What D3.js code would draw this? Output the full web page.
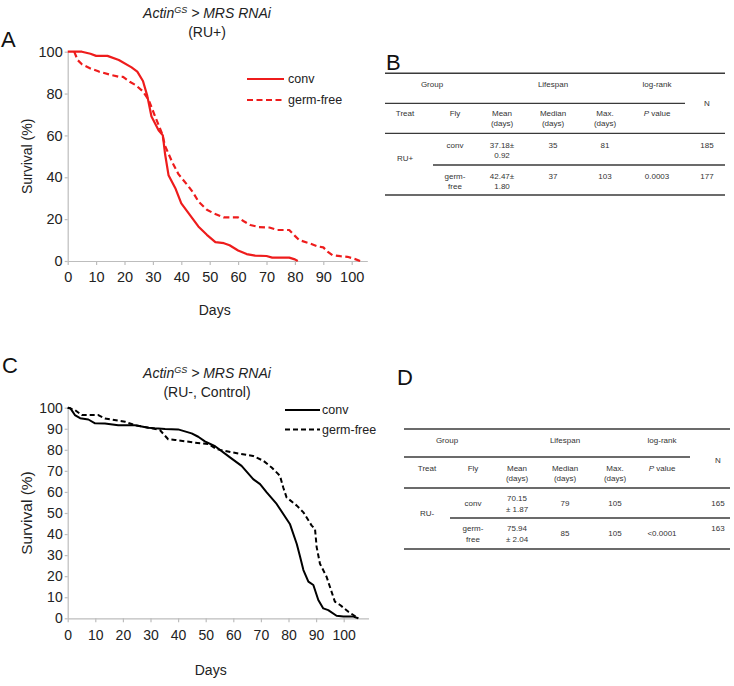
<!DOCTYPE html>
<html><head><meta charset="utf-8">
<script src="https://cdn.jsdelivr.net/npm/d3@7/dist/d3.min.js"></script>
<style>
body{margin:0;background:#fff}
svg{display:block}
text{font-family:Arial,"Liberation Sans",sans-serif}
</style>
</head><body>
<svg id="chart" width="734" height="686"></svg>
<script>
// ---------------- DATA ----------------
const xTickValues = [0,10,20,30,40,50,60,70,80,90,100];
const yTicksA = [0,20,40,60,80,100];
const yTicksC = [0,10,20,30,40,50,60,70,80,90,100];
const seriesNames = ["conv","germ-free"];

// Panel A (RU+): [day, survival %]
const convA = [[0,100],[5,100],[8,99],[10,98],[14,98],[18,96],[22.5,92.5],[24.5,90.5],[26.5,86],[28,79],[29.5,69],[32,62.5],[33.5,60],[34.3,51],[35.5,41],[38,34.5],[40,27.5],[43,22],[46,16.5],[49,12.5],[52,9],[55,8.5],[57,7.5],[60,5],[63,3.3],[66,2.6],[70,2.4],[72,1.6],[78,1.6],[80,0.8],[81,0]];
const germA = [[2.3,100],[3.5,96],[5,94],[8,92],[11,90.5],[15,89],[18,88],[19.5,88],[22,85.5],[24,84],[26.5,81],[28.5,77],[30.8,69],[33.2,61],[34.3,55],[36.7,47.5],[39,41.5],[42.6,35.5],[44,33],[46.1,28.3],[49,24.5],[51.4,22.8],[55,20.8],[60,20.8],[62,19],[64.3,17.2],[67.3,16.2],[71,16],[73.8,14.8],[78,14.8],[80,12],[81.5,10],[85,8.5],[88,7],[90,6.5],[91.5,4.5],[93.2,2.8],[96,2.3],[98.5,2],[101,1],[103,0]];

// Panel C (RU-, Control)
const convC = [[0,100],[1,99.7],[2.6,96.5],[4.5,95],[7.5,94.4],[9.9,92.6],[13.5,92.5],[18.3,91.7],[24.4,91.7],[29.2,90.5],[31.6,90.2],[35.3,89.9],[40,89.7],[44.9,87.8],[47.3,86.2],[49.7,84],[53.4,81.7],[58.8,76.4],[63,72.4],[67.2,66.1],[69.7,63.7],[72.1,59.8],[75.7,54.3],[80.5,44.8],[83,35.3],[84.2,29.2],[85.4,22.9],[87.2,17.4],[89,15.8],[90.8,8.7],[92.6,4.7],[94.4,3.9],[97.4,1.2],[99.9,0.8],[103.5,0.8],[105.3,0]];
const germC = [[0,100],[0.8,99.7],[2.6,98.9],[5.1,96.5],[11.1,96.5],[13.5,94.9],[20.8,93.3],[24.4,91.7],[30.4,90.2],[33.4,89.4],[36.4,85],[38.9,84.7],[46.1,83.4],[50.9,82.8],[54,80.3],[60,78.7],[67.2,77.1],[70.9,74.8],[73.9,71.6],[76.9,67.7],[78.1,62.1],[79.3,57.4],[83,53.5],[85.4,50.3],[88.4,44],[89.6,42.5],[90.2,33.8],[91.4,25.9],[93.8,19.7],[95,15],[96.8,7.9],[98.7,6.3],[101.7,3.1],[105.3,0]];

// Tables
const tableHeaders = ["Group","Lifespan","log-rank","N"];
const columnHeads = [["Treat"],["Fly"],["Mean","(days)"],["Median","(days)"],["Max.","(days)"],["P value"]];
const tableBTreat = "RU+";
const tableBRows = [
  {fly:["conv"], mean:["37.18±","0.92"], median:"35", max:"81", p:"", n:"185"},
  {fly:["germ-","free"], mean:["42.47±","1.80"], median:"37", max:"103", p:"0.0003", n:"177"}
];
const tableDTreat = "RU-";
const tableDRows = [
  {fly:["conv"], mean:["70.15","± 1.87"], median:"79", max:"105", p:"", n:"165"},
  {fly:["germ-","free"], mean:["75.94","± 2.04"], median:"85", max:"105", p:"<0.0001", n:"163"}
];

// ---------------- DRAW ----------------
const svg = d3.select("#chart");
const axisColor = "#bdbdbd";
const textColor = "#222";

function drawPanel(cfg){
  const g = svg.append("g");
  const x = d3.scaleLinear().domain(cfg.xDomain).range(cfg.xRange);
  const y = d3.scaleLinear().domain([0,100]).range(cfg.yRange);

  const xa = g.append("g").attr("transform",`translate(0,${cfg.yRange[0]})`)
    .call(d3.axisBottom(x).tickValues(xTickValues).tickSize(4).tickPadding(cfg.xPad).tickSizeOuter(0));
  const ya = g.append("g").attr("transform",`translate(${cfg.xRange[0]},0)`)
    .call(d3.axisLeft(y).tickValues(cfg.yTicks).tickSize(3).tickPadding(2).tickSizeOuter(0));
  [xa,ya].forEach(a=>{
    a.select(".domain").attr("stroke",axisColor).attr("stroke-width",1.2);
    a.selectAll(".tick line").attr("stroke",axisColor).attr("stroke-width",1.2);
    a.selectAll(".tick text").attr("fill",textColor).attr("font-size",cfg.tickFont).attr("font-family","Arial, 'Liberation Sans', sans-serif");
  });

  const line = d3.line().x(d=>x(d[0])).y(d=>y(d[1]));
  cfg.series.forEach((s,i)=>{
    g.append("path").datum(s).attr("d",line).attr("fill","none")
      .attr("stroke",cfg.color).attr("stroke-width",cfg.lw)
      .attr("stroke-dasharray", i===1 ? cfg.dash : null)
      .attr("stroke-linejoin","round");
  });

  // legend
  seriesNames.forEach((n,i)=>{
    const ly = cfg.legend.y + i*cfg.legend.dy;
    g.append("line").attr("x1",cfg.legend.x1).attr("x2",cfg.legend.x2).attr("y1",ly).attr("y2",ly)
      .attr("stroke",cfg.color).attr("stroke-width",cfg.lw).attr("stroke-dasharray", i===1?cfg.dash:null);
    g.append("text").attr("x",cfg.legend.x2+cfg.legend.gap).attr("y",ly).attr("dy","0.35em")
      .attr("font-size",cfg.legend.font).attr("fill",textColor).text(n);
  });

  // title
  const t = g.append("text").attr("x",cfg.titleX).attr("y",cfg.titleY).attr("text-anchor","middle")
    .attr("font-size",14).attr("font-style","italic").attr("fill",textColor);
  t.append("tspan").text("Actin");
  t.append("tspan").attr("font-size",9).attr("dy",-5).text("GS");
  t.append("tspan").attr("dy",5).text(" > MRS RNAi");
  g.append("text").attr("x",cfg.titleX).attr("y",cfg.titleY+19).attr("text-anchor","middle")
    .attr("font-size",14).attr("fill",textColor).text(cfg.subtitle);

  // axis titles
  g.append("text").attr("transform",`translate(${cfg.yLabelX},${(cfg.yRange[0]+cfg.yRange[1])/2}) rotate(-90)`)
    .attr("text-anchor","middle").attr("dy","0.35em").attr("font-size",cfg.yLabelFont).attr("fill",textColor).text("Survival (%)");
  g.append("text").attr("x",(cfg.xRange[0]+x(100))/2+5).attr("y",cfg.daysY).attr("dy","0.35em")
    .attr("text-anchor","middle").attr("font-size",14).attr("fill",textColor).text("Days");

  // panel letter
  g.append("text").attr("x",cfg.letterX).attr("y",cfg.letterY).attr("font-size",22).attr("fill","#111").text(cfg.letter);
}

drawPanel({
  xDomain:[0,105.5], xRange:[67.7, 67.7+105.5*2.84], yRange:[261,51.7], yTicks:yTicksA,
  xPad:6.5, tickFont:14.5, series:[convA,germA], color:"#ee1c1c", lw:2.2, dash:"6,3.5",
  legend:{x1:247,x2:284,y:79,dy:21,gap:4,font:12.5},
  titleX:207, titleY:18, subtitle:"(RU+)", yLabelX:27, yLabelFont:14, daysY:310, letter:"A", letterX:1, letterY:47
});
drawPanel({
  xDomain:[0,109], xRange:[67.7, 67.7+109*2.76], yRange:[618.3,407.7], yTicks:yTicksC,
  xPad:8, tickFont:14, series:[convC,germC], color:"#000", lw:2, dash:"5,3",
  legend:{x1:285,x2:320,y:410,dy:19.5,gap:2,font:12.5},
  titleX:207, titleY:378, subtitle:"(RU-, Control)", yLabelX:27, yLabelFont:15.5, daysY:670, letter:"C", letterX:2, letterY:373
});

function drawTable(L, treat, rows){
  const g = svg.append("g");
  const lc = "#3a3a3a", fc = "#333", fs = 8;
  const hl = (x1,x2,y,w)=>g.append("line").attr("x1",x1).attr("x2",x2).attr("y1",y).attr("y2",y).attr("stroke",lc).attr("stroke-width",w);
  hl(L.left,L.right,L.top,1.6);
  hl(L.left,L.midRight,L.headLine,1.3);
  hl(L.left,L.right,L.colLine,1.3);
  hl(L.rowLeft,L.right,L.rowLine,1.3);
  hl(L.left,L.right,L.bottom,1.6);
  const txt=(x,y,s,italicFirst)=>{
    const t=g.append("text").attr("x",x).attr("y",y).attr("dy","0.35em").attr("text-anchor","middle")
      .attr("font-size",fs).attr("fill",fc);
    if(italicFirst){t.append("tspan").attr("font-style","italic").text(s[0]);t.append("tspan").text(s.slice(1));}
    else t.text(s);
  };
  const multi=(x,ys,arr)=>arr.forEach((s,i)=>txt(x,ys[i],s));
  txt(L.groupX,L.headY,tableHeaders[0]);
  txt(L.cols[3],L.headY,tableHeaders[1]);
  txt(L.cols[5],L.headY,tableHeaders[2]);
  txt(L.cols[6],L.nY,tableHeaders[3]);
  columnHeads.forEach((h,i)=>{
    if(i===5) txt(L.cols[i],L.colY[0],h[0],true);
    else multi(L.cols[i],L.colY,h);
  });
  txt(L.cols[0],L.treatY,treat);
  rows.forEach((r,i)=>{
    const R=L.rows[i];
    multi(L.cols[1], r.fly.length>1?R.two:[R.single], r.fly);
    multi(L.cols[2], R.two, r.mean);
    txt(L.cols[3],R.single,r.median);
    txt(L.cols[4],R.single,r.max);
    if(r.p) txt(L.cols[5],R.single,r.p);
    txt(L.cols[6],R.n,r.n);
  });
  g.append("text").attr("x",L.letterX).attr("y",L.letterY).attr("font-size",22).attr("fill","#111").text(L.letter);
}

drawTable({
  left:385,right:725,midRight:685,rowLeft:433,top:73.3,headLine:103.3,colLine:133.3,rowLine:165,bottom:195,
  cols:[405,455,502,553,605,657,707], groupX:432, headY:84, nY:103, colY:[113,123], treatY:158,
  rows:[{two:[145,155],single:145,n:145},{two:[176,186],single:176,n:176}],
  letter:"B", letterX:386, letterY:70
}, tableBTreat, tableBRows);

drawTable({
  left:404,right:730,midRight:690,rowLeft:450,top:429,headLine:457,colLine:488,rowLine:518,bottom:549,
  cols:[427,473,517,565,615,662,718], groupX:447, headY:440, nY:460, colY:[468,478], treatY:513,
  rows:[{two:[498,509],single:503,n:503},{two:[528,539],single:533,n:528}],
  letter:"D", letterX:397, letterY:385
}, tableDTreat, tableDRows);
</script>
</body></html>
